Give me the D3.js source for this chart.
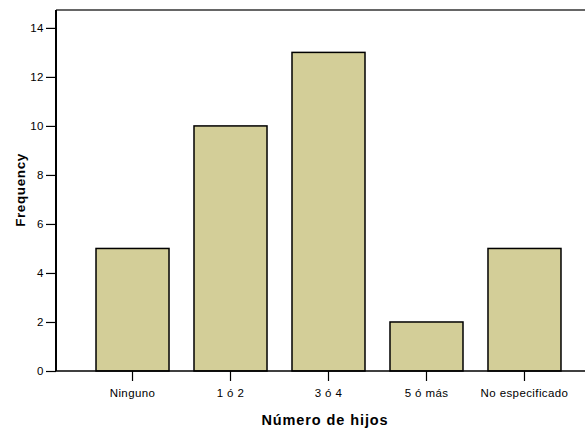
<!DOCTYPE html>
<html><head>
<meta charset="utf-8">
<style>
  body {margin:0; background:#fff;}
  text {font-family: Arial, "Liberation Sans", sans-serif;}
</style>
</head>
<body>
<script src="https://cdn.jsdelivr.net/npm/d3@7"></script>
<script>
// datos
var categorias = ["Ninguno", "1 ó 2", "3 ó 4", "5 ó más", "No especificado"];
var frecuencias = [5, 10, 13, 2, 5];
var ticksY = [0, 2, 4, 6, 8, 10, 12, 14];

var width = 585, height = 429;
var margenIzq = 56, margenSup = 10, baseY = 371;

var svg = d3.select("body").append("svg")
    .attr("width", width)
    .attr("height", height);

var x = d3.scaleBand()
    .domain(categorias)
    .range([72, 585])
    .paddingInner(0.255)
    .paddingOuter(0.245);

var y = d3.scaleLinear()
    .domain([0, 14.73])
    .range([baseY, margenSup]);

// barras
svg.selectAll("rect.bar")
    .data(frecuencias)
    .enter()
    .append("rect")
    .attr("class", "bar")
    .attr("x", function(d, i){ return x(categorias[i]); })
    .attr("y", function(d){ return y(d); })
    .attr("width", x.bandwidth())
    .attr("height", function(d){ return y(0) - y(d); })
    .attr("fill", "#d3ce98")
    .attr("stroke", "#000")
    .attr("stroke-width", 1.5);

// linea superior del marco
svg.append("line")
    .attr("x1", margenIzq).attr("x2", width)
    .attr("y1", margenSup).attr("y2", margenSup)
    .attr("stroke", "#333").attr("stroke-width", 1.5);

// eje y
var ejeY = svg.append("g")
    .attr("transform", "translate(" + margenIzq + ",0)")
    .call(d3.axisLeft(y).tickValues(ticksY).tickSize(10).tickPadding(2).tickSizeOuter(0));
ejeY.select(".domain").attr("stroke", "#000").attr("stroke-width", 2)
    .attr("d", "M0," + margenSup + "V" + baseY);
ejeY.selectAll(".tick line").attr("stroke", "#000").attr("stroke-width", 1.2);
ejeY.selectAll(".tick text").attr("font-size", 11.5).attr("letter-spacing", 0.5)
    .attr("fill", "#000")
    .attr("font-family", "Arial, 'Liberation Sans', sans-serif");

// eje x
var ejeX = svg.append("g")
    .attr("transform", "translate(0," + baseY + ")")
    .call(d3.axisBottom(x).tickSize(10).tickPadding(8).tickSizeOuter(0));
ejeX.select(".domain").attr("stroke", "#000").attr("stroke-width", 1.5)
    .attr("d", "M" + margenIzq + ",0H" + width);
ejeX.selectAll(".tick line").attr("stroke", "#000").attr("stroke-width", 1.2);
ejeX.selectAll(".tick text").attr("font-size", 11.5).attr("letter-spacing", 0.4)
    .attr("fill", "#000")
    .attr("font-family", "Arial, 'Liberation Sans', sans-serif");

// titulos
svg.append("text")
    .attr("x", 325)
    .attr("y", 425)
    .attr("text-anchor", "middle")
    .attr("font-size", 14.5)
    .attr("letter-spacing", 0.9)
    .attr("font-weight", "bold")
    .text("Número de hijos");

svg.append("text")
    .attr("transform", "translate(25,190) rotate(-90)")
    .attr("text-anchor", "middle")
    .attr("font-size", 13.5)
    .attr("letter-spacing", 0.6)
    .attr("font-weight", "bold")
    .text("Frequency");
</script>
</body></html>
